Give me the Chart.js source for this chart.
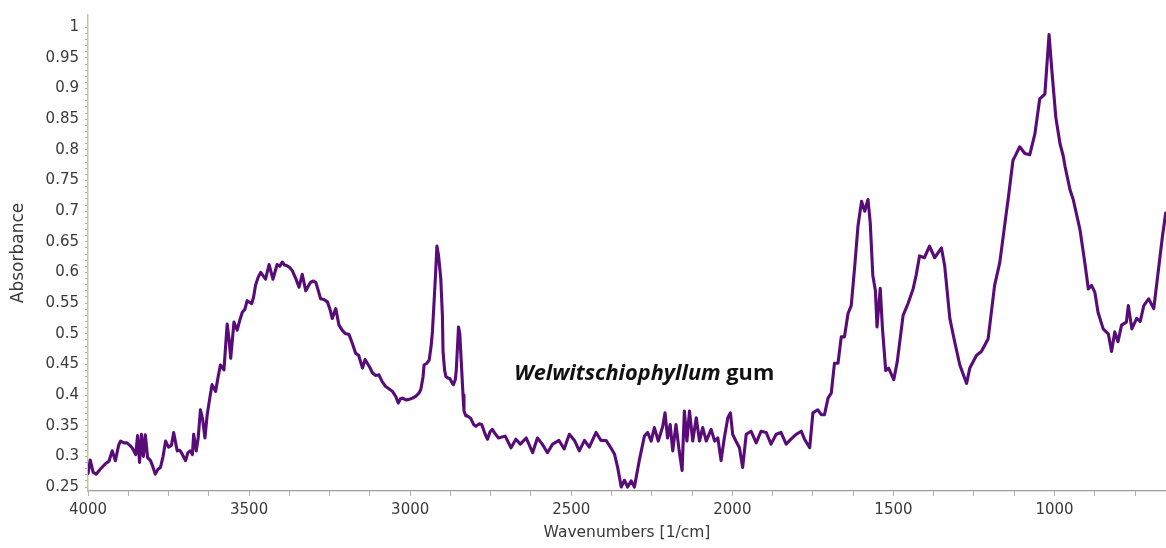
<!DOCTYPE html>
<html>
<head>
<meta charset="utf-8">
<script src="https://cdn.jsdelivr.net/npm/chart.js@4.4.1/dist/chart.umd.min.js"></script>
<style>
  html, body { margin: 0; padding: 0; background: #ffffff; }
  #wrap { width: 1166px; height: 548px; }
</style>
</head>
<body>
<div id="wrap"><canvas id="c" width="1166" height="548"></canvas></div>
<script>
// ---- data ----
const wavenumbers = [
  4000,3993,3984,3975,3962,3946,3935,3925,3915,3905,3899,3888,3879,3870,3863,3852,3846,3840,3834,3828,
  3822,3815,3806,3798,3791,3783,3775,3767,3759,3750,3741,3734,3728,3723,3715,3708,3697,3690,3682,3676,
  3672,3664,3658,3651,3644,3637,3630,3622,3615,3604,3596,3589,3578,3568,3562,3557,3547,3537,3529,3521,
  3513,3506,3492,3486,3480,3472,3464,3449,3438,3426,3420,3413,3405,3397,3390,3382,3374,3366,3355,3345,
  3335,3324,3316,3309,3300,3293,3285,3278,3268,3257,3249,3242,3231,3221,3210,3200,3190,3180,3169,3160,
  3148,3140,3133,3125,3117,3107,3097,3087,3076,3065,3055,3045,3037,3030,3024,3013,3003,2993,2983,2973,
  2967,2960,2957,2948,2941,2935,2931,2925,2920,2917,2912,2905,2900,2898,2893,2889,2883,2877,2870,2866,
  2860,2857,2853,2850,2846,2841,2836,2833,2827,2822,2812,2803,2796,2786,2778,2770,2763,2760,2752,2745,
  2735,2726,2718,2705,2687,2672,2658,2640,2620,2605,2590,2574,2558,2538,2522,2506,2490,2475,2459,2444,
  2423,2408,2392,2377,2366,2356,2345,2335,2325,2314,2304,2289,2273,2263,2252,2242,2230,2216,2209,2201,
  2193,2185,2175,2165,2156,2149,2141,2133,2123,2112,2102,2092,2081,2066,2055,2045,2035,2025,2014,2006,
  1999,1989,1978,1968,1957,1942,1926,1911,1895,1880,1864,1849,1833,1818,1802,1786,1776,1760,1750,1735,
  1724,1714,1703,1693,1683,1672,1662,1652,1641,1631,1620,1610,1599,1589,1579,1572,1564,1556,1551,1541,
  1534,1524,1515,1499,1488,1470,1455,1439,1429,1419,1404,1388,1372,1351,1341,1325,1310,1294,1273,1263,
  1242,1227,1206,1186,1170,1149,1144,1129,1123,1108,1092,1077,1061,1046,1030,1017,1009,996,983,973,
  967,952,942,921,906,895,885,875,865,849,833,823,813,803,792,777,771,760,745,734,
  723,708,692,676,665,655
];
const absorbance = [
  0.272,0.294,0.274,0.271,0.279,0.288,0.292,0.309,0.293,0.318,0.325,0.322,0.322,0.318,0.314,0.303,0.334,0.290,0.336,0.300,
  0.335,0.298,0.293,0.282,0.271,0.279,0.282,0.300,0.325,0.315,0.318,0.339,0.322,0.309,0.310,0.304,0.293,0.306,0.309,0.303,
  0.336,0.309,0.330,0.376,0.360,0.330,0.368,0.395,0.417,0.406,0.430,0.449,0.441,0.516,0.490,0.460,0.519,0.506,0.522,0.535,
  0.540,0.554,0.549,0.560,0.579,0.592,0.600,0.589,0.613,0.589,0.600,0.613,0.610,0.617,0.612,0.611,0.608,0.603,0.590,0.576,
  0.597,0.570,0.578,0.584,0.586,0.584,0.570,0.557,0.556,0.552,0.540,0.525,0.541,0.514,0.505,0.500,0.499,0.485,0.468,0.465,
  0.444,0.458,0.452,0.445,0.436,0.432,0.433,0.422,0.414,0.410,0.406,0.398,0.387,0.394,0.395,0.392,0.393,0.395,0.398,0.403,
  0.409,0.430,0.449,0.452,0.457,0.480,0.503,0.560,0.610,0.643,0.628,0.590,0.530,0.471,0.440,0.430,0.428,0.427,0.420,0.417,
  0.425,0.440,0.480,0.511,0.500,0.450,0.400,0.374,0.366,0.366,0.362,0.352,0.349,0.353,0.352,0.340,0.331,0.328,0.340,0.344,
  0.336,0.330,0.331,0.333,0.314,0.328,0.320,0.330,0.306,0.330,0.320,0.306,0.320,0.326,0.312,0.336,0.326,0.309,0.326,0.315,
  0.339,0.326,0.326,0.314,0.304,0.282,0.250,0.261,0.250,0.260,0.250,0.293,0.333,0.339,0.325,0.347,0.325,0.349,0.371,0.330,
  0.352,0.309,0.352,0.309,0.277,0.374,0.325,0.374,0.325,0.363,0.325,0.347,0.325,0.344,0.325,0.330,0.293,0.330,0.363,0.371,
  0.336,0.325,0.314,0.282,0.336,0.341,0.322,0.341,0.339,0.320,0.336,0.339,0.320,0.328,0.336,0.341,0.328,0.314,0.371,0.376,
  0.368,0.368,0.395,0.403,0.452,0.452,0.495,0.495,0.533,0.546,0.611,0.676,0.716,0.700,0.719,0.681,0.595,0.570,0.511,0.574,
  0.508,0.440,0.444,0.425,0.455,0.530,0.549,0.573,0.597,0.627,0.624,0.643,0.624,0.640,0.611,0.525,0.487,0.449,0.419,0.444,
  0.465,0.471,0.492,0.579,0.616,0.700,0.719,0.783,0.789,0.805,0.794,0.792,0.826,0.883,0.891,0.988,0.934,0.853,0.810,0.790,
  0.772,0.735,0.719,0.670,0.616,0.573,0.579,0.568,0.535,0.508,0.500,0.471,0.503,0.487,0.514,0.519,0.546,0.508,0.525,0.520,
  0.546,0.557,0.541,0.611,0.659,0.697
];
const xMajorTicks = [4000, 3500, 3000, 2500, 2000, 1500, 1000];
const yMajorTicks = ['1','0.95','0.9','0.85','0.8','0.75','0.7','0.65','0.6','0.55','0.5','0.45','0.4','0.35','0.3','0.25'];
const sampleLabel = 'Welwitschiophyllum';
const sampleSuffix = ' gum';

// ---- chart ----
const points = wavenumbers.map((w, i) => ({ x: w, y: absorbance[i] }));

const annotationPlugin = {
  id: 'sampleLabel',
  afterDraw(chart) {
    const ctx = chart.ctx;
    const xs = chart.scales.x, ys = chart.scales.y;
    const x0 = xs.getPixelForValue(2677);
    const y0 = ys.getPixelForValue(0.424);
    const targetW = 260;
    ctx.save();
    let size = 100;
    ctx.font = 'italic bold ' + size + 'px "Open Sans"';
    const w1 = ctx.measureText(sampleLabel).width;
    ctx.font = 'bold ' + size + 'px "Open Sans"';
    const w2 = ctx.measureText(sampleSuffix).width;
    size = size * targetW / (w1 + w2);
    ctx.fillStyle = '#111111';
    ctx.textBaseline = 'alphabetic';
    ctx.textAlign = 'left';
    ctx.font = 'italic bold ' + size.toFixed(2) + 'px "Open Sans"';
    ctx.fillText(sampleLabel, x0, y0);
    const wa = ctx.measureText(sampleLabel).width;
    ctx.font = 'bold ' + size.toFixed(2) + 'px "Open Sans"';
    ctx.fillText(sampleSuffix, x0 + wa, y0);
    ctx.restore();
  }
};

const bgPlugin = {
  id: 'bg',
  beforeDraw(chart) {
    const ctx = chart.ctx;
    ctx.save();
    ctx.fillStyle = '#ffffff';
    ctx.fillRect(0, 0, chart.width, chart.height);
    ctx.restore();
  }
};

new Chart(document.getElementById('c'), {
  type: 'scatter',
  data: {
    datasets: [{
      data: points,
      showLine: true,
      borderColor: '#580c78',
      borderWidth: 3.1,
      pointRadius: 0,
      tension: 0,
      fill: false,
      borderJoinStyle: 'round',
      borderCapStyle: 'round'
    }]
  },
  options: {
    responsive: false,
    animation: false,
    devicePixelRatio: 1,
    layout: { padding: { top: 10, right: 0, left: 0, bottom: 0 } },
    plugins: { legend: { display: false }, tooltip: { enabled: false } },
    scales: {
      x: {
        type: 'linear',
        reverse: true,
        min: 654,
        max: 4000,
        afterBuildTicks(scale) {
          const t = [];
          for (let v = 750; v <= 4000; v += 125) t.push({ value: v });
          scale.ticks = t;
        },
        afterFit(scale) { scale.height = 57; },
        ticks: {
          autoSkip: false,
          maxRotation: 0,
          minRotation: 0,
          padding: 5,
          color: '#3a3a3a',
          font: { family: '"DejaVu Sans"', size: 15 },
          callback(value) { return xMajorTicks.includes(value) ? String(value) : ''; }
        },
        grid: { drawOnChartArea: false, drawTicks: true, tickLength: 5, color: '#b0b0b0' },
        border: { display: true, color: '#9c9c9c', width: 1.2 },
        title: {
          display: true,
          text: 'Wavenumbers [1/cm]',
          color: '#3a3a3a',
          font: { family: '"DejaVu Sans"', size: 15.5 },
          padding: { top: 0, bottom: 6 }
        }
      },
      y: {
        type: 'linear',
        min: 0.2435,
        max: 1.02,
        afterBuildTicks(scale) {
          const t = [];
          for (let k = 25; k <= 100; k++) t.push({ value: k / 100 });
          scale.ticks = t;
        },
        afterFit(scale) { scale.width = 88; },
        ticks: {
          autoSkip: false,
          padding: 6,
          color: '#3a3a3a',
          font: { family: '"DejaVu Sans"', size: 15 },
          callback(value) {
            const s = String(Math.round(value * 100) / 100);
            return yMajorTicks.includes(s) ? s : '';
          }
        },
        grid: { drawOnChartArea: false, drawTicks: true, tickLength: 3, color: '#b4b88a' },
        border: { display: true, color: '#c2c69c', width: 1.5, dash: [2, 1] },
        title: {
          display: true,
          text: 'Absorbance',
          color: '#3a3a3a',
          font: { family: '"DejaVu Sans"', size: 17 },
          padding: { top: 8, bottom: 0 }
        }
      }
    }
  },
  plugins: [bgPlugin, annotationPlugin]
});
</script>
</body>
</html>
